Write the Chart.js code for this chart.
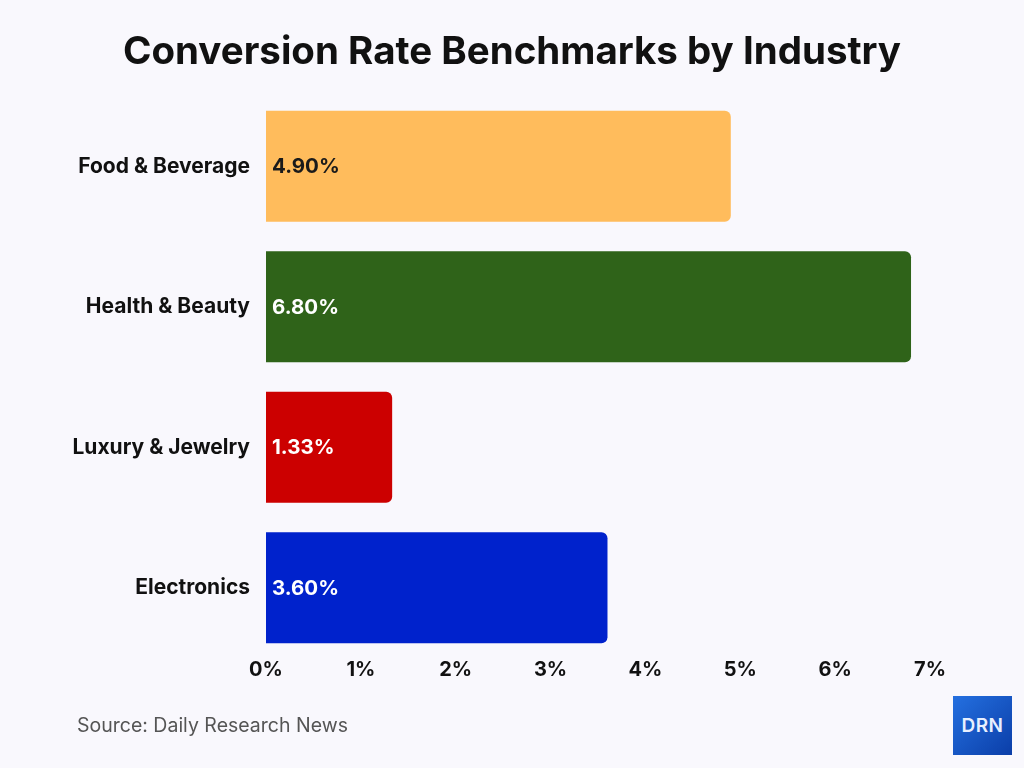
<!DOCTYPE html>
<html>
<head>
<meta charset="utf-8">
<script src="https://cdn.jsdelivr.net/npm/chart.js@4"></script>
<style>
  html, body { margin: 0; padding: 0; background: #f9f8fd; }
  #wrap { position: relative; width: 1024px; height: 768px; }
  #title {
    position: absolute; left: 0; top: 26px; width: 1024px; text-align: center;
    font-family: Inter, "Noto Sans", sans-serif; font-weight: 700; font-size: 38.5px;
    color: #111; line-height: 48px;
  }
  #source {
    position: absolute; left: 77px; top: 713px;
    font-family: Inter, "Noto Sans", sans-serif; font-size: 19.5px; color: #555;
  }
  #logo {
    position: absolute; left: 953px; top: 696px; width: 59px; height: 59px;
    background: linear-gradient(135deg, #2470e0, #0b3ea8);
    color: #e8f0ff; font-family: Inter, sans-serif; font-weight: 600; font-size: 19px;
    display: flex; align-items: center; justify-content: center; letter-spacing: 0.5px;
  }
</style>
</head>
<body>
<div id="wrap">
  <canvas id="chart" width="1024" height="768"></canvas>
  <div id="title">Conversion Rate Benchmarks by Industry</div>
  <div id="source">Source: Daily Research News</div>
  <div id="logo">DRN</div>
</div>
<script>
// data
const industries = ["Food & Beverage", "Health & Beauty", "Luxury & Jewelry", "Electronics"];
const rates = [4.90, 6.80, 1.33, 3.60];
const barColors = ["#ffbc5c", "#2f6319", "#cc0000", "#0022cc"];
const labelColors = ["#1a1a1a", "#ffffff", "#ffffff", "#ffffff"];
const xTicks = [0, 1, 2, 3, 4, 5, 6, 7];

// label di dalam batang
const valueLabels = {
  id: "valueLabels",
  afterDatasetsDraw(chart) {
    const ctx = chart.ctx;
    const meta = chart.getDatasetMeta(0);
    ctx.save();
    ctx.font = "bold 20.5px Inter, 'Noto Sans', sans-serif";
    ctx.textAlign = "left";
    ctx.textBaseline = "middle";
    meta.data.forEach((bar, i) => {
      ctx.fillStyle = labelColors[i];
      ctx.fillText(rates[i].toFixed(2) + "%", bar.base + 6, bar.y + 1);
    });
    ctx.restore();
  },
};

Chart.defaults.font.family = "Inter, 'Noto Sans', sans-serif";

new Chart(document.getElementById("chart"), {
  type: "bar",
  data: {
    labels: industries,
    datasets: [{
      data: rates,
      backgroundColor: barColors,
      borderRadius: 6,
      borderSkipped: "start",
      categoryPercentage: 1,
      barPercentage: 0.79,
    }],
  },
  options: {
    indexAxis: "y",
    responsive: false,
    animation: false,
    devicePixelRatio: 1,
    layout: { padding: { left: 0, right: 94, top: 96, bottom: 80 } },
    plugins: {
      legend: { display: false },
      tooltip: { enabled: false },
      title: { display: false },
    },
    scales: {
      x: {
        min: 0,
        max: 7,
        afterFit(scale) { scale.height = 30; },
        afterBuildTicks(scale) { scale.ticks = xTicks.map((v) => ({ value: v })); },
        grid: { display: false, drawTicks: false },
        border: { display: false },
        ticks: {
          color: "#111111",
          padding: 0,
          font: { size: 20, weight: "bold" },
          callback: (v) => v + "%",
        },
      },
      y: {
        afterFit(scale) { scale.width = 266; },
        grid: { display: false, drawTicks: false },
        border: { display: false },
        ticks: {
          color: "#111111",
          padding: 16,
          font: { size: 21, weight: "bold" },
        },
      },
    },
  },
  plugins: [valueLabels],
});
</script>
</body>
</html>
